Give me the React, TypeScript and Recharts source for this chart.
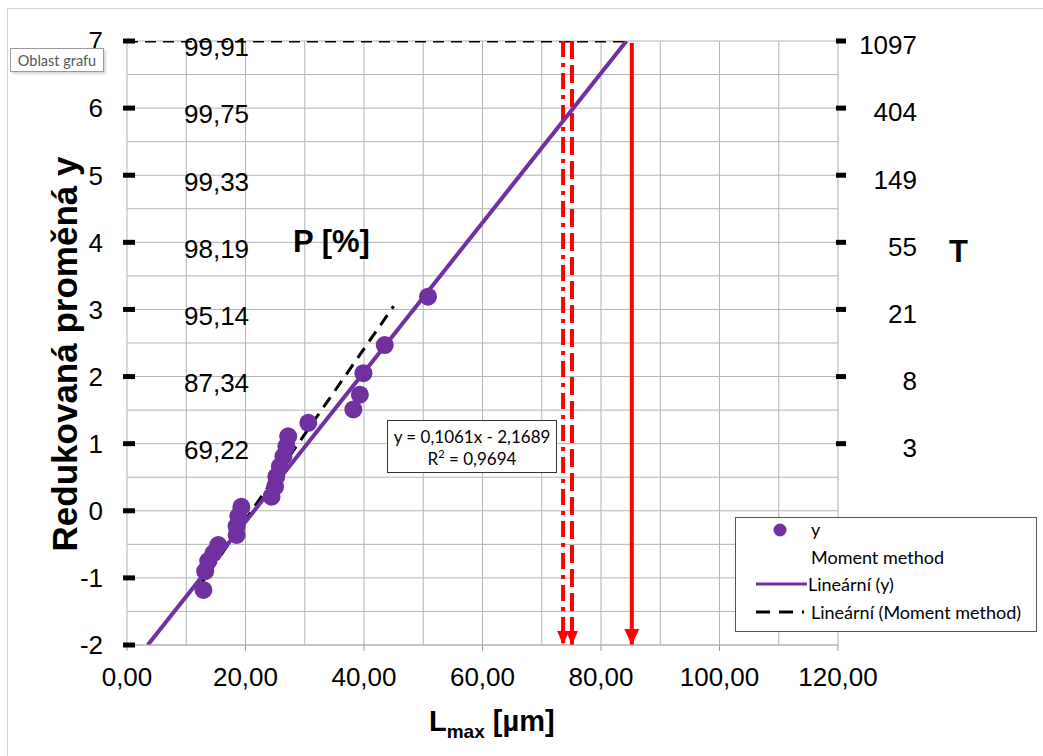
import {
  ComposedChart,
  Scatter,
  Line,
  XAxis,
  YAxis,
  CartesianGrid,
  ReferenceLine,
} from "recharts";

// measured points (L_max, reduced variable y)
const lmax = [
  12.9, 13.2, 13.7, 14.6, 15.4, 18.5, 18.5, 18.8, 19.3, 24.4, 25.0, 25.2, 25.8,
  26.4, 26.9, 27.2, 30.6, 38.2, 39.3, 39.9, 43.5, 50.8,
];
const yRed = [
  -1.18, -0.9, -0.75, -0.63, -0.51, -0.36, -0.23, -0.08, 0.06, 0.21, 0.36, 0.51,
  0.66, 0.81, 0.96, 1.11, 1.31, 1.51, 1.73, 2.05, 2.47, 3.19,
];

// trend lines as drawn
const linYX = [3.5, 84.3];
const linYY = [-2, 7];
const linMomX = [12, 45];
const linMomY = [-1.15, 3.05];

// horizontal guide at y = 7 and the three red arrows
const guideX = [0, 84.3];
const guideY = [7, 7];
const arrowTop = 7;
const arrowBottom = -2;
const arrowSolidX = 85.2;
const arrowDashX = 75.1;
const arrowDashDotX = 73.6;

// axes
const xTicks = [0, 20, 40, 60, 80, 100, 120];
const yTicks = [-2, -1, 0, 1, 2, 3, 4, 5, 6, 7];
const tLevels = [1, 2, 3, 4, 5, 6, 7];
const tLabels = ["3", "8", "21", "55", "149", "404", "1097"];
const pLabels = ["69,22", "87,34", "95,14", "98,19", "99,33", "99,75", "99,91"];
const gridX = Array.from({ length: 25 }, (_, i) => i * 5);
const gridY = Array.from({ length: 19 }, (_, i) => -2 + i * 0.5);

const FONT = '"Liberation Sans", Arial, sans-serif';
const FONT_SMALL = 'Lato, "Open Sans", sans-serif';
const PURPLE = "#7030A0";
const RED = "#FF0000";
const GRID = "#b3b3b3";

const points = lmax.map((x, i) => ({ x, y: yRed[i] }));
const toLine = (xs: number[], ys: number[]) =>
  xs.map((x, i) => ({ x, y: ys[i] }));

const arrowHead = (w: number, h: number) => (props: any) => {
  const { cx, cy, index } = props;
  if (index !== 1 || cx == null) return <g key={`a-${index}`} />;
  return (
    <polygon
      key={`a-${index}`}
      points={`${cx - w / 2},${cy - h} ${cx + w / 2},${cy - h} ${cx},${cy}`}
      fill={RED}
    />
  );
};

const LeftTick = ({ x, y, payload }: any) => (
  <g>
    <line x1={x - 4} x2={x + 8} y1={y} y2={y} stroke="#000" strokeWidth={5} />
    <text
      x={x - 24}
      y={y}
      dy="0.36em"
      textAnchor="end"
      fontSize={26}
      fontFamily={FONT}
      fill="#000"
    >
      {payload.value}
    </text>
  </g>
);

const RightTick = ({ x, y, payload }: any) => (
  <g>
    <line x1={x - 2} x2={x + 8} y1={y} y2={y} stroke="#000" strokeWidth={5} />
    <text
      x={x + 79}
      y={y + 4}
      dy="0.36em"
      textAnchor="end"
      fontSize={26}
      fontFamily={FONT}
      fill="#000"
    >
      {tLabels[tLevels.indexOf(payload.value)] ?? ""}
    </text>
  </g>
);

export default function App() {
  return (
    <div
      style={{
        position: "absolute",
        left: 0,
        top: 0,
        width: 1043,
        height: 756,
        background: "#fff",
      }}
    >
      <div
        style={{
          position: "absolute",
          left: 7,
          top: 8,
          right: 0,
          bottom: 0,
          borderLeft: "1px solid #d4d4d4",
          borderTop: "1px solid #d4d4d4",
        }}
      />
      <ComposedChart
        width={1043}
        height={756}
        margin={{ top: 41, right: 0, bottom: 41, left: 0 }}
      >
        <CartesianGrid
          yAxisId="left"
          stroke={GRID}
          strokeWidth={1}
          verticalValues={gridX}
          horizontalValues={gridY}
        />
        <XAxis
          type="number"
          dataKey="x"
          domain={[0, 120]}
          ticks={xTicks}
          allowDataOverflow
          height={70}
          axisLine={{ stroke: GRID }}
          tickLine={{ stroke: "#999" }}
          tickSize={6}
          tickMargin={17}
          tick={{ fontSize: 26, fontFamily: FONT, fill: "#000" }}
          tickFormatter={(v: number) => v.toFixed(2).replace(".", ",")}
          label={(p: any) => {
            const vb = p.viewBox;
            return (
              <text
                x={vb.x + 302}
                y={vb.y + 86}
                fontFamily={FONT}
                fontWeight="bold"
                fontSize={29}
                fill="#000"
              >
                L
                <tspan fontSize={19} dy={7}>
                  max
                </tspan>
                <tspan dy={-7}> [µm]</tspan>
              </text>
            );
          }}
        />
        <YAxis
          yAxisId="left"
          type="number"
          dataKey="y"
          domain={[-2, 7]}
          ticks={yTicks}
          allowDataOverflow
          width={127}
          axisLine={false}
          tickLine={false}
          tickSize={0}
          tickMargin={0}
          tick={<LeftTick />}
          label={(p: any) => {
            const vb = p.viewBox;
            const cy = vb.y + vb.height / 2 + 11;
            return (
              <text
                x={77}
                y={cy}
                transform={`rotate(-90, 77, ${cy})`}
                textAnchor="middle"
                fontFamily={FONT}
                fontWeight="bold"
                fontSize={35}
                fill="#000"
              >
                Redukovaná proměná y
              </text>
            );
          }}
        />
        <YAxis
          yAxisId="right"
          orientation="right"
          type="number"
          domain={[-2, 7]}
          ticks={tLevels}
          allowDataOverflow
          width={205}
          axisLine={false}
          tickLine={false}
          tickSize={0}
          tickMargin={0}
          tick={<RightTick />}
        />

        {tLevels.map((v, i) => (
          <ReferenceLine
            key={`p-${v}`}
            yAxisId="left"
            y={v}
            stroke="none"
            label={(p: any) => (
              <text
                x={p.viewBox.x + 57}
                y={p.viewBox.y + 6}
                dy="0.36em"
                fontSize={26}
                fontFamily={FONT}
                fill="#000"
              >
                {pLabels[i]}
              </text>
            )}
          />
        ))}

        <Line
          yAxisId="left"
          data={toLine(guideX, guideY)}
          dataKey="y"
          stroke="#000"
          strokeWidth={3}
          strokeDasharray="11 7"
          dot={false}
          activeDot={false}
          isAnimationActive={false}
          legendType="none"
        />
        <Line
          yAxisId="left"
          data={toLine([arrowDashDotX, arrowDashDotX], [arrowTop, arrowBottom])}
          dataKey="y"
          stroke={RED}
          strokeWidth={4}
          strokeDasharray="16 6 4 6"
          dot={arrowHead(12, 14)}
          activeDot={false}
          isAnimationActive={false}
        />
        <Line
          yAxisId="left"
          data={toLine([arrowDashX, arrowDashX], [arrowTop, arrowBottom])}
          dataKey="y"
          stroke={RED}
          strokeWidth={4}
          strokeDasharray="18 6"
          dot={arrowHead(12, 14)}
          activeDot={false}
          isAnimationActive={false}
        />
        <Line
          yAxisId="left"
          data={toLine([arrowSolidX, arrowSolidX], [arrowTop - 0.03, arrowBottom])}
          dataKey="y"
          stroke={RED}
          strokeWidth={4}
          dot={arrowHead(15, 16)}
          activeDot={false}
          isAnimationActive={false}
        />
        <Line
          yAxisId="left"
          data={toLine(linMomX, linMomY)}
          dataKey="y"
          stroke="#000"
          strokeWidth={3}
          strokeDasharray="12 8"
          dot={false}
          activeDot={false}
          isAnimationActive={false}
        />
        <Scatter
          yAxisId="left"
          data={points}
          fill={PURPLE}
          isAnimationActive={false}
          shape={(p: any) => <circle cx={p.cx} cy={p.cy} r={9} fill={PURPLE} />}
        />
        <Line
          yAxisId="left"
          data={toLine(linYX, linYY)}
          dataKey="y"
          stroke={PURPLE}
          strokeWidth={4}
          dot={false}
          activeDot={false}
          isAnimationActive={false}
        />
      </ComposedChart>

      {/* annotations */}
      <div
        style={{
          position: "absolute",
          left: 293,
          top: 224,
          fontFamily: FONT,
          fontWeight: "bold",
          fontSize: 31,
          lineHeight: "36px",
        }}
      >
        P [%]
      </div>
      <div
        style={{
          position: "absolute",
          left: 949,
          top: 234,
          fontFamily: FONT,
          fontWeight: "bold",
          fontSize: 31,
          lineHeight: "36px",
        }}
      >
        T
      </div>
      <div
        style={{
          position: "absolute",
          left: 10,
          top: 48,
          width: 94,
          height: 24,
          border: "1px solid #9a9a9a",
          background: "#fff",
          boxShadow: "2px 2px 2px rgba(0,0,0,0.15)",
          fontFamily: FONT_SMALL,
          fontSize: 14.5,
          color: "#555",
          lineHeight: "24px",
          textAlign: "center",
          boxSizing: "border-box",
        }}
      >
        Oblast grafu
      </div>
      <div
        style={{
          position: "absolute",
          left: 387,
          top: 420,
          width: 170,
          height: 53,
          border: "1px solid #333",
          background: "#fff",
          fontFamily: FONT_SMALL,
          fontSize: 17,
          lineHeight: "22px",
          textAlign: "center",
          paddingTop: 5,
          boxSizing: "border-box",
        }}
      >
        <div>y = 0,1061x - 2,1689</div>
        <div>
          R<sup style={{ fontSize: 11, lineHeight: 0 }}>2</sup> = 0,9694
        </div>
      </div>
      <div
        style={{
          position: "absolute",
          left: 735,
          top: 517,
          width: 302,
          height: 115,
          border: "1px solid #555",
          background: "#fff",
          boxSizing: "border-box",
        }}
      >
        <svg
          width={300}
          height={113}
          style={{ position: "absolute", left: 0, top: 0 }}
        >
          <circle cx={44} cy={12} r={6.5} fill={PURPLE} />
          <line x1={20} x2={71} y1={66} y2={66} stroke={PURPLE} strokeWidth={3} />
          <line
            x1={20}
            x2={68}
            y1={94}
            y2={94}
            stroke="#000"
            strokeWidth={3}
            strokeDasharray="14 9"
          />
          <text x={75} y={18} fontSize={18} fontFamily={FONT_SMALL}>
            y
          </text>
          <text x={75} y={46} fontSize={18} fontFamily={FONT_SMALL}>
            Moment method
          </text>
          <text x={72} y={73} fontSize={18} fontFamily={FONT_SMALL}>
            Lineární (y)
          </text>
          <text x={75} y={101} fontSize={18} fontFamily={FONT_SMALL}>
            Lineární (Moment method)
          </text>
        </svg>
      </div>
    </div>
  );
}
